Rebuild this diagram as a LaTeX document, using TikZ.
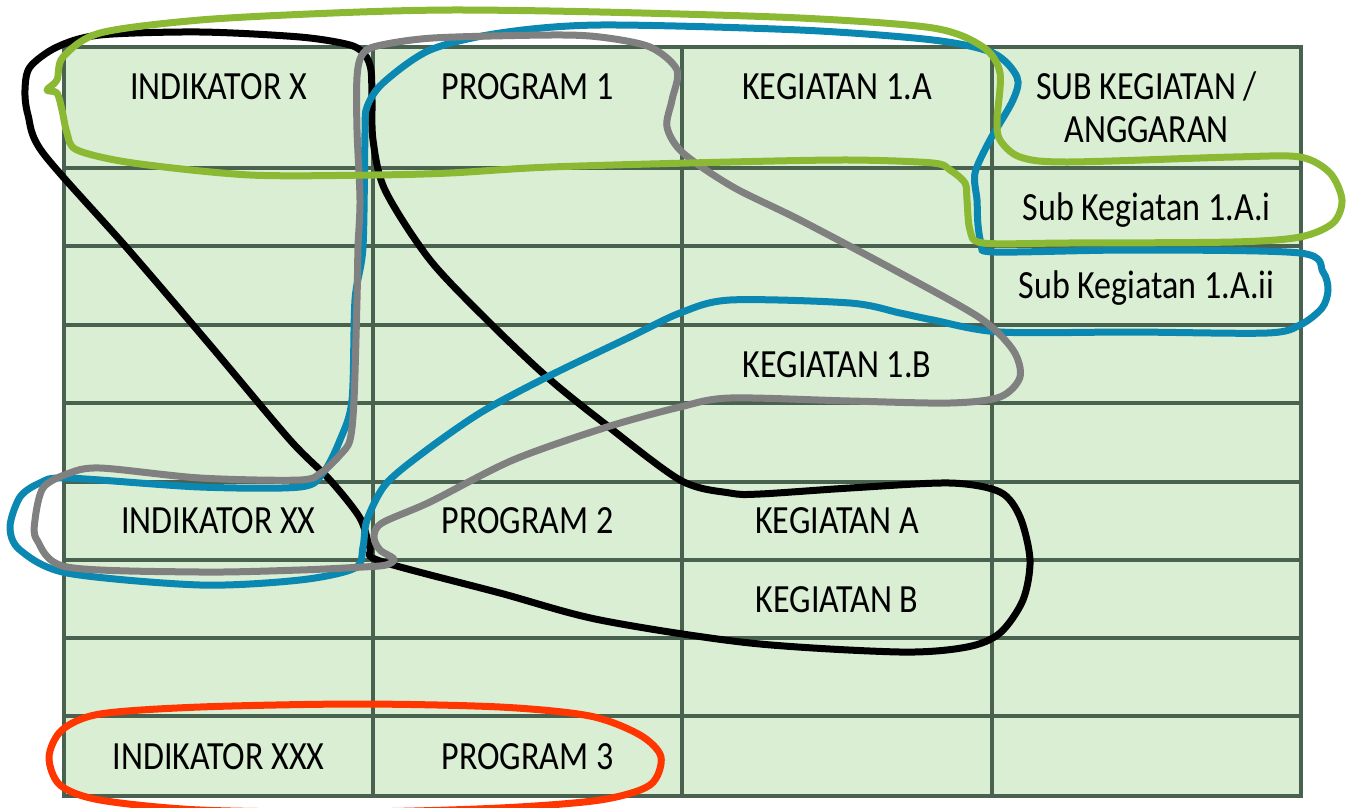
\documentclass[tikz,border=0pt]{standalone}
\usepackage{fontspec}
\setmainfont{Carlito}[FakeStretch=0.85]
\definecolor{cellfill}{HTML}{DAEED4}
\definecolor{gridc}{HTML}{49624F}
\definecolor{loopgreen}{HTML}{8CB933}
\definecolor{loopblue}{HTML}{0A88B2}
\definecolor{loopgray}{HTML}{808080}
\definecolor{loopred}{HTML}{FF3600}
\begin{document}
\begin{tikzpicture}[x=1pt,y=-1pt,
  cell/.style={anchor=base, inner sep=0pt, font=\fontsize{40}{43}\selectfont},
  gridline/.style={draw=gridc, line width=3.5pt},
  freeloop/.style={line width=7pt, line join=round, line cap=round}]
\useasboundingbox (0,0) rectangle (1349,807);

% table body and grid
\fill[cellfill] (64,47) rectangle (1301,796);
\foreach \x in {373,682,992} \draw[gridline] (\x,47) -- (\x,796);
\foreach \y in {168,246,325,403,482,560,638,716} \draw[gridline] (64,\y) -- (1301,\y);
\draw[gridline] (64,47) rectangle (1301,796);

% cell texts
\node[cell] (indx)   at (218.5,99)  {INDIKATOR X};
\node[cell] (prog1)  at (527.5,99)  {PROGRAM 1};
\node[cell] (keg1a)  at (837,99)    {KEGIATAN 1.A};
\node[cell] (subhdA) at (1146.5,99) {SUB KEGIATAN /};
\node[cell] (subhdB) at (1146.5,142) {ANGGARAN};
\node[cell] (sub1ai) at (1146.5,220) {Sub Kegiatan 1.A.i};
\node[cell] (sub1aii) at (1146.5,298) {Sub Kegiatan 1.A.ii};
\node[cell] (keg1b)  at (837,377)   {KEGIATAN 1.B};
\node[cell] (indxx)  at (218.5,533) {INDIKATOR XX};
\node[cell] (prog2)  at (527.5,533) {PROGRAM 2};
\node[cell] (kega)   at (837,533)   {KEGIATAN A};
\node[cell] (kegb)   at (837,612)   {KEGIATAN B};
\node[cell] (indxxx) at (218.5,769) {INDIKATOR XXX};
\node[cell] (prog3)  at (527.5,769) {PROGRAM 3};

% hand-drawn grouping loops
\draw[freeloop, black] plot[smooth cycle] coordinates {
 (25,90) (28,115) (43,153) (127,248) (210,345) (290,440) (330,480)
 (360,518) (370,548) (380,561) (500,593) (600,620) (750,643) (900,652)
 (967,647) (1000,633) (1023,600) (1030,560) (1020,517) (1000,492) (950,483)
 (850,488) (760,494) (730,493) (680,480) (600,420) (547,377) (490,323)
 (430,260) (385,190) (373,140) (372,100) (371,70) (365,55) (350,45)
 (300,37) (200,32) (100,35) (57,47) (30,67)};

\draw[freeloop, loopblue] plot[smooth cycle] coordinates {
 (367,107) (383,83) (430,50) (500,33) (600,25) (800,30) (933,40) (993,53)
 (1017,77) (1013,100) (990,140) (975,173) (977,200) (978,225)
 (982,245) (995,252) (1133,250) (1300,253) (1323,272) (1328,290) (1322,308)
 (1300,325) (1267,333) (1133,332) (1000,332) (933,320) (900,313) (850,303)
 (730,300) (680,313) (630,337) (547,377) (480,413) (420,455) (385,485)
 (367,520) (363,547) (355,568) (300,580) (200,585) (67,573)
 (20,550) (10,527) (20,497) (40,483) (67,478) (200,487) (300,487) (323,473)
 (340,440) (352,400) (355,300) (363,247) (365,133)};

\draw[freeloop, loopgray] plot[smooth cycle] coordinates {
 (357,77) (362,55) (377,46) (433,38) (550,35) (600,37) (650,47) (677,70)
 (672,100) (667,127) (683,153) (733,187) (800,220) (900,273) (980,318)
 (1013,350) (1020,377) (1000,397) (950,403) (850,401) (730,398) (680,407)
 (607,427) (513,460) (430,502) (382,523) (374,537) (380,550) (394,559)
 (386,565) (363,567) (300,570) (200,572) (67,567) (37,540) (35,520) (43,488)
 (67,474) (100,468) (200,478) (300,480) (322,472) (340,455) (350,440)
 (354,400) (357,300) (358,247) (360,200) (357,130)};

\draw[freeloop, loopgreen] plot[smooth cycle] coordinates {
 (47,90) (57,80) (63,57) (100,33) (200,20) (333,13) (450,10) (600,12)
 (800,18) (933,28) (983,47) (1000,73) (997,120) (1000,140) (1020,157)
 (1067,162) (1233,157) (1300,157) (1330,173) (1342,200) (1333,223)
 (1300,237) (1233,242) (1067,243) (983,243) (970,230) (967,200) (965,183)
 (950,170) (933,163) (850,160) (730,162) (550,167) (450,173) (373,175) (250,175)
 (133,163) (77,150) (67,133) (62,110) (57,93)};

\draw[freeloop, loopred] plot[smooth cycle] coordinates {
 (49,757) (62,730) (100,714) (200,707) (357,704) (500,707) (590,716)
 (640,735) (661,757) (650,785) (600,800) (500,808) (357,812) (200,810)
 (100,800) (60,785)};
\end{tikzpicture}
\end{document}
